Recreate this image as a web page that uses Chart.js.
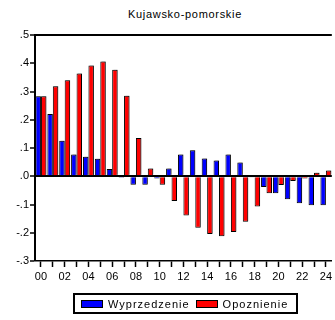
<!DOCTYPE html>
<html>
<head>
<meta charset="utf-8">
<title>Kujawsko-pomorskie</title>
<script src="https://cdn.jsdelivr.net/npm/chart.js@4/dist/chart.umd.min.js"></script>
<style>
    html, body { margin: 0; padding: 0; background: #fff; }
    body { font-family: 'Liberation Sans', Arial, sans-serif; color: #000; }
    .wrap { position: relative; width: 335px; height: 320px; overflow: hidden; }
    #chart { position: absolute; left: 0; top: 0; }
    .title { position: absolute; left: 35px; top: 7px; width: 300px; text-align: center; font-size: 11px; line-height: 14px; letter-spacing: 0.7px; }
    .legend { position: absolute; left: 73px; top: 293px; width: 225px; height: 21px; box-sizing: border-box; border: 2px solid #000; display: flex; align-items: center; font-size: 11px; letter-spacing: 1px; }
    .legend .sw { display: inline-block; width: 20px; height: 6px; border: 1px solid #000; margin: 0 5px 0 6px; }
</style>
</head>
<body>
<div class="wrap">
    <div class="title">Kujawsko-pomorskie</div>
    <canvas id="chart" width="335" height="320"></canvas>
    <div class="legend">
        <span class="sw" style="background:#0000ff"></span><span>Wyprzedzenie</span>
        <span class="sw" style="background:#ff0000"></span><span>Opoznienie</span>
    </div>
</div>
<script>
const lags = ['00', '01', '02', '03', '04', '05', '06', '07', '08', '09', '10', '11', '12',
    '13', '14', '15', '16', '17', '18', '19', '20', '21', '22', '23', '24'];

const wyprzedzenie = [0.283, 0.220, 0.126, 0.077, 0.069, 0.062, 0.026, -0.005, -0.030, -0.030,
    -0.008, 0.027, 0.077, 0.092, 0.063, 0.056, 0.077, 0.049, -0.003, -0.038,
    -0.060, -0.081, -0.096, -0.103, -0.103];

const opoznienie = [0.283, 0.319, 0.340, 0.364, 0.392, 0.406, 0.377, 0.285, 0.135, 0.027,
    -0.030, -0.088, -0.139, -0.182, -0.204, -0.212, -0.197, -0.161, -0.107, -0.060,
    -0.031, -0.017, -0.008, 0.012, 0.020];

const yMin = -0.3;
const yMax = 0.5;

// top frame line + light bar shadow like the original
const frame = {
    id: 'frame',
    beforeDatasetsDraw(chart) {
        const ctx = chart.ctx;
        ctx.save();
        ctx.shadowColor = 'rgba(0,0,0,0.28)';
        ctx.shadowOffsetX = 1.5;
        ctx.shadowOffsetY = -1;
        ctx.shadowBlur = 0;
    },
    afterDatasetsDraw(chart) {
        chart.ctx.restore();
    },
    afterDraw(chart) {
        const { ctx, chartArea: a } = chart;
        ctx.save();
        ctx.strokeStyle = '#000';
        ctx.lineWidth = 2;
        ctx.beginPath();
        ctx.moveTo(a.left - 1, a.top);
        ctx.lineTo(a.right, a.top);
        ctx.stroke();
        ctx.restore();
    }
};

const font = { family: "'Liberation Sans', Arial, sans-serif", size: 11 };

new Chart(document.getElementById('chart').getContext('2d'), {
    type: 'bar',
    data: {
        labels: lags,
        datasets: [
            { label: 'Wyprzedzenie', data: wyprzedzenie, backgroundColor: '#0000ff', borderColor: '#000', borderWidth: 1 },
            { label: 'Opoznienie', data: opoznienie, backgroundColor: '#ff0000', borderColor: '#000', borderWidth: 1 }
        ]
    },
    options: {
        responsive: false,
        animation: false,
        layout: { padding: { top: 35, left: 0, right: 0, bottom: 34 } },
        categoryPercentage: 0.92,
        barPercentage: 1,
        plugins: { legend: { display: false }, title: { display: false }, tooltip: { enabled: false } },
        scales: {
            x: {
                afterFit: (s) => { s.height = 25; },
                grid: { offset: false, drawOnChartArea: false, drawTicks: true, tickLength: 6, tickColor: '#000', tickWidth: 1.5 },
                border: { display: true, color: '#000', width: 1.5 },
                ticks: {
                    autoSkip: false, maxRotation: 0, padding: 3, color: '#000', font,
                    callback: (v, i) => (i % 2 === 0 ? lags[i] : '')
                }
            },
            y: {
                min: yMin,
                max: yMax,
                afterFit: (s) => { s.width = 35; },
                grid: {
                    drawOnChartArea: true, drawTicks: true, tickLength: 5, tickColor: '#000', tickWidth: 1.5,
                    color: (c) => (c.tick && Math.abs(c.tick.value) < 1e-9 ? '#000' : 'rgba(0,0,0,0)'),
                    lineWidth: (c) => (c.tick && Math.abs(c.tick.value) < 1e-9 ? 2 : 0)
                },
                border: { display: true, color: '#000', width: 2 },
                ticks: {
                    stepSize: 0.1, padding: 1, color: '#000', font,
                    callback: (v) => v.toFixed(1).replace('0.', '.')
                }
            }
        }
    },
    plugins: [frame]
});
</script>
</body>
</html>
